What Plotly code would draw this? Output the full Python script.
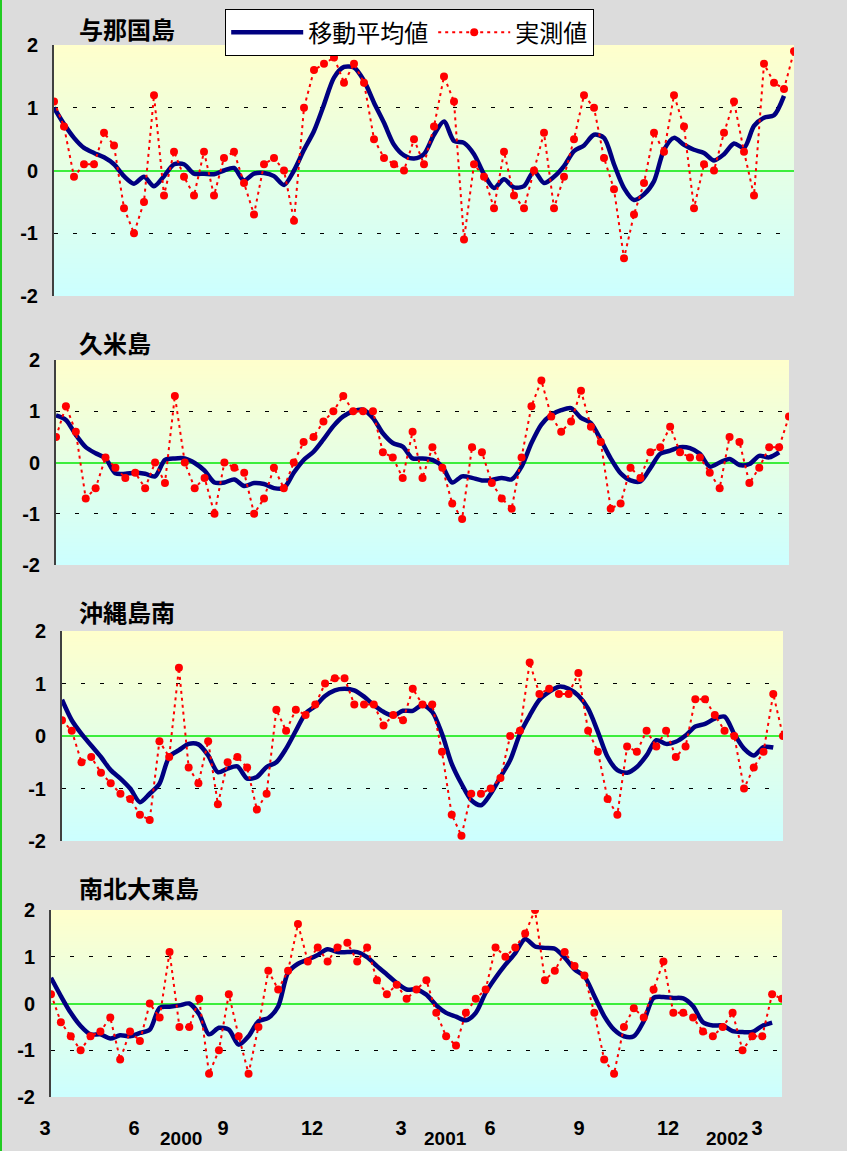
import zlib, struct, base64
import plotly.graph_objects as go

W, H = 847, 1151

# ---------------- data ----------------
stations = ["与那国島", "久米島", "沖縄島南", "南北大東島"]
dekads = list(range(75))          # 10-day periods from March 2000 (1st dekad)

yonaguni_obs = [1.1, 0.7, -0.1, 0.1, 0.1, 0.6, 0.4, -0.6, -1.0, -0.5,
                1.2, -0.4, 0.3, -0.1, -0.4, 0.3, -0.4, 0.2, 0.3, -0.2,
                -0.7, 0.1, 0.2, 0.0, -0.8, 1.0, 1.6, 1.7, 1.8, 1.4,
                1.7, 1.4, 0.5, 0.2, 0.1, 0.0, 0.5, 0.1, 0.7, 1.5,
                1.1, -1.1, 0.1, -0.1, -0.6, 0.3, -0.4, -0.6, 0.0, 0.6,
                -0.6, -0.1, 0.5, 1.2, 1.0, 0.2, -0.3, -1.4, -0.7, -0.2,
                0.6, 0.3, 1.2, 0.7, -0.6, 0.1, 0.0, 0.6, 1.1, 0.3,
                -0.4, 1.7, 1.4, 1.3, 1.9]
yonaguni_ma = [1.0, 0.74, 0.52, 0.36, 0.28, 0.21, 0.1, -0.09, -0.21, -0.1,
               -0.25, -0.09, 0.1, 0.1, -0.05, -0.05, -0.06, 0.0, 0.04, -0.16,
               -0.05, -0.04, -0.09, -0.23, 0.0, 0.33, 0.63, 1.05, 1.48, 1.65,
               1.64, 1.43, 1.08, 0.76, 0.41, 0.24, 0.19, 0.26, 0.57, 0.78,
               0.47, 0.44, 0.26, -0.06, -0.28, -0.14, -0.27, -0.25, -0.01, -0.2,
               -0.1, 0.07, 0.31, 0.4, 0.57, 0.52, 0.1, -0.28, -0.47, -0.38,
               -0.17, 0.33, 0.52, 0.41, 0.33, 0.28, 0.16, 0.26, 0.43, 0.36,
               0.71, 0.84, 0.88, 1.19, None]

kume_obs = [0.5, 1.1, 0.6, -0.7, -0.5, 0.1, -0.1, -0.3, -0.2, -0.5,
            0.0, -0.4, 1.3, 0.0, -0.5, -0.3, -1.0, 0.0, -0.1, -0.2,
            -1.0, -0.7, -0.1, -0.5, 0.0, 0.4, 0.5, 0.8, 1.0, 1.3,
            1.0, 1.0, 1.0, 0.2, 0.1, -0.3, 0.6, -0.3, 0.3, -0.1,
            -0.8, -1.1, 0.3, 0.2, -0.4, -0.7, -0.9, 0.1, 1.1, 1.6,
            0.9, 0.6, 0.8, 1.4, 0.7, 0.4, -0.9, -0.8, -0.1, -0.3,
            0.2, 0.3, 0.7, 0.2, 0.1, 0.1, -0.2, -0.5, 0.5, 0.4,
            -0.4, -0.1, 0.3, 0.3, 0.9]
kume_ma = [0.92, 0.83, 0.54, 0.3, 0.18, 0.08, -0.21, -0.22, -0.2, -0.22,
           -0.27, 0.05, 0.08, 0.08, -0.01, -0.16, -0.39, -0.39, -0.33, -0.46,
           -0.4, -0.42, -0.5, -0.5, -0.2, 0.05, 0.21, 0.45, 0.71, 0.9,
           1.0, 1.03, 0.87, 0.57, 0.38, 0.31, 0.08, 0.08, 0.05, -0.08,
           -0.39, -0.27, -0.3, -0.35, -0.34, -0.3, -0.33, -0.08, 0.38, 0.74,
           0.93, 1.02, 1.06, 0.87, 0.77, 0.44, 0.08, -0.21, -0.35, -0.37,
           -0.11, 0.17, 0.23, 0.3, 0.28, 0.17, -0.08, 0.0, 0.07, -0.05,
           -0.03, 0.13, 0.1, 0.2, None]

okinawa_s_obs = [0.3, 0.1, -0.5, -0.4, -0.7, -0.9, -1.1, -1.2, -1.5, -1.6,
                 -0.1, -0.4, 1.3, -0.6, -0.9, -0.1, -1.3, -0.5, -0.4, -0.6,
                 -1.4, -1.1, 0.5, 0.1, 0.5, 0.4, 0.6, 1.0, 1.1, 1.1,
                 0.6, 0.6, 0.6, 0.2, 0.4, 0.3, 0.9, 0.6, 0.6, -0.3,
                 -1.5, -1.9, -1.1, -1.1, -1.0, -0.8, 0.0, 0.1, 1.4, 0.8,
                 0.9, 0.8, 0.8, 1.2, 0.1, -0.3, -1.2, -1.5, -0.2, -0.3,
                 0.1, -0.2, 0.1, -0.4, -0.2, 0.7, 0.7, 0.4, 0.1, 0.0,
                 -1.0, -0.6, -0.3, 0.8, 0.0]
okinawa_s_ma = [0.69, 0.3, 0.04, -0.18, -0.4, -0.65, -0.81, -1.0, -1.26, -1.1,
                -0.91, -0.4, -0.27, -0.15, -0.16, -0.37, -0.69, -0.62, -0.58, -0.81,
                -0.78, -0.59, -0.5, -0.24, 0.1, 0.43, 0.57, 0.76, 0.87, 0.9,
                0.87, 0.75, 0.59, 0.46, 0.39, 0.48, 0.48, 0.59, 0.46, 0.04,
                -0.53, -0.91, -1.22, -1.32, -1.1, -0.78, -0.46, 0.04, 0.39, 0.69,
                0.84, 0.94, 0.9, 0.77, 0.52, 0.08, -0.4, -0.65, -0.7, -0.59,
                -0.37, -0.08, -0.15, -0.11, 0.01, 0.18, 0.23, 0.33, 0.37, 0.04,
                -0.24, -0.37, -0.21, -0.22, None]

daito_obs = [0.2, -0.4, -0.7, -1.0, -0.7, -0.6, -0.3, -1.2, -0.6, -0.8,
             0.0, -0.3, 1.1, -0.5, -0.5, 0.1, -1.5, -1.0, 0.2, -0.7,
             -1.5, -0.5, 0.7, 0.3, 0.7, 1.7, 0.9, 1.2, 0.9, 1.2,
             1.3, 0.9, 1.2, 0.5, 0.2, 0.4, 0.1, 0.3, 0.5, -0.2,
             -0.7, -0.9, -0.2, 0.1, 0.3, 1.2, 1.0, 1.2, 1.5, 2.0,
             0.5, 0.7, 1.1, 0.8, 0.6, -0.2, -1.2, -1.5, -0.5, -0.1,
             -0.3, 0.3, 0.9, -0.2, -0.2, -0.3, -0.6, -0.7, -0.5, -0.2,
             -1.0, -0.7, -0.7, 0.2, 0.1]
daito_ma = [0.55, 0.16, -0.2, -0.48, -0.66, -0.66, -0.75, -0.68, -0.7, -0.63,
            -0.56, -0.09, -0.07, -0.04, 0.0, -0.23, -0.66, -0.52, -0.56, -0.88,
            -0.7, -0.38, -0.31, -0.06, 0.66, 0.85, 0.94, 1.04, 1.16, 1.1,
            1.1, 1.1, 0.99, 0.8, 0.62, 0.44, 0.3, 0.3, 0.19, -0.04,
            -0.2, -0.28, -0.36, -0.2, 0.23, 0.55, 0.83, 1.08, 1.38, 1.22,
            1.19, 1.17, 0.98, 0.73, 0.58, 0.16, -0.27, -0.56, -0.7, -0.7,
            -0.38, 0.12, 0.14, 0.12, 0.11, -0.06, -0.4, -0.47, -0.47, -0.59,
            -0.61, -0.61, -0.48, -0.41, None]

obs_series = [yonaguni_obs, kume_obs, okinawa_s_obs, daito_obs]
ma_series = [yonaguni_ma, kume_ma, okinawa_s_ma, daito_ma]

month_ticks = [0, 3, 6, 9, 12, 15, 18, 21, 24]     # months after March 2000
month_labels = ["3", "6", "9", "12", "3", "6", "9", "12", "3"]
year_labels = ["2000", "2001", "2002"]
year_label_pos = [4.6, 13.5, 23.0]
y_tick_vals = [-2, -1, 0, 1, 2]
y_tick_text = ["-2", "-1", "0", "1", "2"]
legend_names = ["移動平均値", "実測値"]

# ---------------- layout geometry (pixels) ----------------
boxes = [(54, 794, 45, 296), (56, 789, 360, 565), (62, 783, 631, 841), (51, 782, 910, 1097)]
title_cy = [28, 342, 611, 887]
tick_axis_px = (45, 757)

NUM_FONT = "Liberation Sans, Arial, sans-serif"
JP_FONT = "Noto Sans CJK JP, sans-serif"


def png_gradient(top, bottom, n=256):
    raw = b""
    for k in range(n):
        t = k / (n - 1)
        px = bytes(int(round(top[c] + (bottom[c] - top[c]) * t)) for c in range(3))
        raw += b"\x00" + px

    def chunk(tag, data):
        return (struct.pack(">I", len(data)) + tag + data +
                struct.pack(">I", zlib.crc32(tag + data) & 0xFFFFFFFF))

    png = (b"\x89PNG\r\n\x1a\n" +
           chunk(b"IHDR", struct.pack(">IIBBBBB", 1, n, 8, 2, 0, 0, 0)) +
           chunk(b"IDAT", zlib.compress(raw)) + chunk(b"IEND", b""))
    return "data:image/png;base64," + base64.b64encode(png).decode()


grad_src = png_gradient((255, 255, 204), (204, 255, 255))

fig = go.Figure()
layout = dict(
    width=W, height=H, margin=dict(l=0, r=0, t=0, b=0, pad=0, autoexpand=False),
    paper_bgcolor="#dcdcdc", plot_bgcolor="rgba(0,0,0,0)",
    showlegend=True,
    legend=dict(orientation="h", x=225 / W, y=1 - 9 / H, xanchor="left", yanchor="top",
                bgcolor="white", bordercolor="black", borderwidth=1.2,
                font=dict(family=JP_FONT, size=24, color="black"),
                itemwidth=72, tracegroupgap=0),
    images=[], annotations=[], shapes=[],
)

for i in range(4):
    l, r, t, b = boxes[i]
    n = i + 1
    xa = "x" if n == 1 else f"x{n}"
    ya = "y" if n == 1 else f"y{n}"
    fig.add_trace(go.Scatter(
        x=dekads, y=ma_series[i], xaxis=xa, yaxis=ya, mode="lines",
        line=dict(color="#000080", width=4.5, shape="spline", smoothing=0.8),
        name=legend_names[0], showlegend=(i == 0), hoverinfo="skip"))
    fig.add_trace(go.Scatter(
        x=dekads, y=obs_series[i], xaxis=xa, yaxis=ya, mode="lines+markers",
        line=dict(color="#ff0000", width=2, dash="3px,4px"),
        marker=dict(color="#ff0000", size=8),
        name=legend_names[1], showlegend=(i == 0), hoverinfo="skip"))
    layout[f"xaxis{n}"] = dict(
        domain=[l / W, r / W], range=[0, len(dekads) - 1], anchor=ya,
        showticklabels=False, showgrid=False, zeroline=False, showline=False,
        ticks="", fixedrange=True, automargin=False)
    layout[f"yaxis{n}"] = dict(
        domain=[1 - b / H, 1 - t / H], range=[-2, 2], anchor=xa,
        tickvals=y_tick_vals, ticktext=y_tick_text,
        tickfont=dict(family=NUM_FONT, size=20, color="black", weight="bold"),
        ticks="outside", ticklen=10, tickcolor="rgba(0,0,0,0)",
        showgrid=True, gridcolor="black", gridwidth=1, griddash="4px,15px",
        zeroline=True, zerolinecolor="#3cee3c", zerolinewidth=2,
        showline=True, linecolor="#404040", linewidth=2, fixedrange=True,
        automargin=False)
    layout["images"].append(dict(
        source=grad_src, xref="paper", yref="paper", x=l / W, y=1 - t / H,
        sizex=(r - l) / W, sizey=(b - t) / H, xanchor="left", yanchor="top",
        sizing="stretch", layer="below"))
    layout["annotations"].append(dict(
        text=f"<b>{stations[i]}</b>", xref="paper", yref="paper",
        x=77 / W, y=1 - title_cy[i] / H, xanchor="left", yanchor="middle",
        showarrow=False, font=dict(family=JP_FONT, size=24, color="black")))

# month tick axis along the bottom
fig.add_trace(go.Scatter(x=[month_ticks[0], month_ticks[-1]], y=[0, 0], xaxis="x5", yaxis="y5",
                         mode="lines", line=dict(width=0), showlegend=False, hoverinfo="skip"))
layout["xaxis5"] = dict(
    domain=[tick_axis_px[0] / W, tick_axis_px[1] / W], range=[month_ticks[0], month_ticks[-1]],
    anchor="free", position=1 - 1114 / H, tickvals=month_ticks, ticktext=month_labels,
    tickfont=dict(family=NUM_FONT, size=20, color="black", weight="bold"),
    ticks="", showgrid=False, zeroline=False, showline=False, fixedrange=True,
    automargin=False)
layout["yaxis5"] = dict(domain=[1 - 1114 / H, 1 - 1112 / H], visible=False, anchor="x5",
                        range=[-1, 1], fixedrange=True, automargin=False)
for lbl, pos in zip(year_labels, year_label_pos):
    layout["annotations"].append(dict(
        text=f"<b>{lbl}</b>", xref="x5", yref="paper", x=pos, y=0,
        xanchor="center", yanchor="bottom", showarrow=False,
        font=dict(family=NUM_FONT, size=19, color="black")))

layout["shapes"].append(dict(type="line", xref="paper", yref="paper", x0=1 / W, x1=1 / W,
                             y0=0, y1=1, line=dict(color="#22cc22", width=2)))

fig.update_layout(**layout)
fig.write_html("out.html", config={"displayModeBar": False},
               post_script="document.body.style.margin='0';")
